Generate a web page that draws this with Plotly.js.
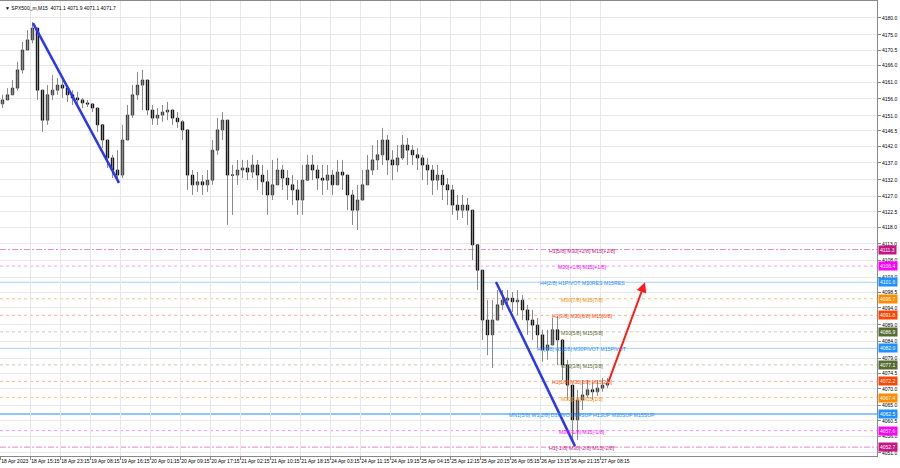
<!DOCTYPE html>
<html>
<head>
<meta charset="utf-8">
<script src="https://cdn.plot.ly/plotly-3.0.1.min.js"></script>
<style>html,body{margin:0;padding:0;background:#fff;}#chart{width:900px;height:468px;}</style>
</head>
<body>
<div id="chart"></div>
<script>
// ---- DATA ----
const symbolHeader = "\u25BC SPX500_m,M15  4071.1 4071.9 4071.1 4071.7";
const timeLabels = ["18 Apr 2023","18 Apr 15:15","18 Apr 23:15","19 Apr 08:15","19 Apr 16:15","20 Apr 01:15","20 Apr 09:15","20 Apr 17:15","21 Apr 02:15","21 Apr 10:15","21 Apr 18:15","24 Apr 03:15","24 Apr 11:15","24 Apr 19:15","25 Apr 04:15","25 Apr 12:15","25 Apr 20:15","26 Apr 05:15","26 Apr 13:15","26 Apr 21:15","27 Apr 08:15"];
const priceTicks = [4180.0,4175.0,4170.5,4166.0,4161.0,4156.0,4151.0,4146.5,4142.0,4137.0,4132.0,4127.0,4122.5,4118.0,4113.0,4108.0,4103.0,4098.5,4094.0,4089.0,4084.0,4079.0,4074.5,4070.0,4065.0,4060.5,4056.0,4051.0];

const open = [4154.5,4155.7,4157.2,4159.2,4164.6,4170.5,4173.5,4177.0,4158.6,4149.7,
4157.2,4158.6,4160.1,4159.2,4157.2,4156.3,4155.7,4154.8,4154.5,4153.3,
4148.3,4143.8,4138.5,4134.9,4133.4,4143.8,4151.2,4157.2,4160.1,4161.6,
4152.7,4150.3,4151.2,4152.1,4152.7,4150.3,4149.2,4146.8,4133.4,4130.5,
4131.4,4130.5,4131.9,4140.8,4146.8,4149.7,4133.4,4133.4,4134.9,4135.5,
4134.3,4136.4,4133.4,4131.4,4127.5,4130.5,4134.9,4132.5,4130.5,4129.0,
4126.0,4131.9,4136.4,4134.9,4132.5,4131.9,4133.4,4130.5,4134.3,4133.4,
4127.5,4123.0,4126.0,4130.5,4134.9,4137.9,4139.4,4143.8,4137.9,4136.4,
4138.5,4142.3,4140.8,4139.4,4138.5,4136.4,4134.9,4131.9,4133.4,4130.5,
4129.0,4124.5,4123.0,4124.5,4123.0,4112.7,4105.2,4090.4,4086.0,4090.4,
4094.9,4096.3,4096.9,4095.8,4096.3,4093.4,4090.4,4088.9,4086.0,4081.5,
4083.0,4087.5,4084.5,4077.1,4071.1,4060.8,4066.7,4068.2,4069.7,4069.1,
4070.2,4071.1];
const high = [4157.2,4159.2,4161.6,4167.0,4172.9,4176.4,4178.8,4177.0,4158.6,4160.1,
4163.1,4162.2,4161.6,4160.1,4158.6,4158.1,4156.3,4155.7,4154.5,4153.3,
4148.3,4143.8,4139.4,4140.8,4148.3,4154.2,4160.1,4164.0,4164.6,4161.6,
4154.2,4153.3,4154.2,4155.1,4152.7,4152.1,4149.7,4146.8,4134.9,4134.3,
4133.4,4134.9,4143.8,4150.3,4152.1,4149.7,4136.4,4137.9,4137.9,4137.9,
4139.4,4137.9,4136.4,4134.9,4137.9,4138.5,4136.4,4134.9,4133.4,4131.9,
4136.4,4139.4,4139.4,4136.4,4136.4,4136.4,4134.9,4137.9,4137.9,4133.4,
4129.0,4130.5,4134.9,4139.4,4142.3,4143.8,4147.4,4145.3,4140.8,4142.3,
4145.3,4144.4,4142.3,4141.4,4139.4,4138.5,4136.4,4136.4,4134.9,4132.5,
4130.5,4127.5,4127.5,4126.6,4123.0,4112.7,4105.2,4096.3,4096.3,4099.3,
4099.3,4099.3,4098.7,4099.3,4097.8,4094.9,4093.4,4091.0,4087.5,4087.5,
4091.0,4091.6,4084.5,4078.6,4071.1,4069.7,4072.6,4072.6,4072.0,4072.6,
4073.2,4073.2];
const low = [4153.3,4155.7,4157.2,4158.5,4163.5,4170.5,4172.5,4155.7,4146.2,4148.3,
4155.7,4157.2,4156.3,4155.1,4154.2,4153.3,4153.3,4153.6,4152.1,4146.2,
4141.4,4135.5,4132.5,4131.1,4132.5,4143.8,4150.3,4155.7,4152.7,4151.2,
4148.3,4148.3,4149.2,4149.7,4148.3,4147.4,4143.8,4129.0,4127.5,4128.4,
4127.5,4128.4,4130.5,4139.4,4143.8,4118.6,4121.6,4130.5,4132.5,4131.9,
4132.5,4129.0,4127.5,4121.6,4126.0,4130.5,4129.0,4126.0,4124.5,4121.6,
4121.6,4131.9,4131.9,4129.0,4127.5,4129.0,4127.5,4130.5,4129.0,4123.0,
4118.6,4117.1,4126.0,4130.5,4133.4,4134.9,4136.4,4133.4,4131.9,4134.3,
4137.9,4136.4,4136.4,4134.9,4131.9,4130.5,4127.5,4129.0,4126.0,4124.5,
4121.6,4120.1,4120.7,4118.6,4108.2,4099.3,4084.5,4080.0,4076.2,4090.4,
4093.4,4094.0,4092.8,4091.9,4090.4,4086.0,4084.5,4082.1,4078.0,4078.6,
4083.0,4077.1,4072.6,4066.7,4054.8,4054.8,4063.7,4067.3,4066.7,4067.9,
4069.1,4070.2];
const close = [4155.7,4157.2,4159.2,4164.6,4170.5,4173.5,4177.0,4158.6,4149.7,4157.2,
4158.6,4160.1,4159.2,4157.2,4156.3,4155.7,4154.8,4154.5,4153.3,4148.3,
4143.8,4138.5,4134.9,4133.4,4143.8,4151.2,4157.2,4160.1,4161.6,4152.7,
4150.3,4151.2,4152.1,4152.7,4150.3,4149.2,4146.8,4133.4,4130.5,4131.4,
4130.5,4131.9,4140.8,4146.8,4149.7,4133.4,4133.4,4134.9,4135.5,4134.3,
4136.4,4133.4,4131.4,4127.5,4130.5,4134.9,4132.5,4130.5,4129.0,4126.0,
4131.9,4136.4,4134.9,4132.5,4131.9,4133.4,4130.5,4134.3,4133.4,4127.5,
4123.0,4126.0,4130.5,4134.9,4137.9,4139.4,4143.8,4137.9,4136.4,4138.5,
4142.3,4140.8,4139.4,4138.5,4136.4,4134.9,4131.9,4133.4,4130.5,4129.0,
4124.5,4123.0,4124.5,4123.0,4112.7,4105.2,4090.4,4086.0,4090.4,4094.9,
4096.3,4096.9,4095.8,4096.3,4093.4,4090.4,4088.9,4086.0,4081.5,4083.0,
4087.5,4084.5,4077.1,4071.1,4060.8,4066.7,4068.2,4069.7,4069.1,4070.2,
4071.1,4071.7];

const levelPrices = [4111.3,4106.4,4101.6,4096.7,4091.8,4086.9,4082.0,4077.1,4072.2,4067.4,4062.5,4057.6,4052.7];
const levelLabels = ["H1[5/8] M30[+2/8] M15[+2/8]","M30[+1/8] M15[+1/8]","H4[2/8] H1PIVOT M30RES M15RES","M30[7/8] M15[7/8]","H1[3/8] M30[6/8] M15[6/8]","M30[5/8] M15[5/8]","H4[1/8] H1[2/8] M30PIVOT M15PIVOT","M30[3/8] M15[3/8]","H1[1/8] M30[2/8] M15[2/8]","M30[1/8] M15[1/8]","MN1[5/8] W1[2/8] D1PIVOT H4SUP H1SUP M30SUP M15SUP","M30[-1/8] M15[-1/8]","H1[-1/8] M30[-2/8] M15[-2/8]"];

// trend lines: [bar, price]
const trend1Bars = [6.1, 23.3], trend1Prices = [4178.5, 4131.1];
const trend2Bars = [98.7, 114.5], trend2Prices = [4101.7, 4053.0];
const arrowBars = [121.1, 128.5], arrowPrices = [4071.7, 4101.6];

// ---- STYLES ----
const levelStyle = [
  {c:"#c71585", line:"#e58ac2", dash:"6px,2px,2px,2px", w:1},
  {c:"#ff00ff", line:"#f59cf5", dash:"3px,3px", w:1},
  {c:"#1e90ff", line:"#a9d2f7", dash:"solid", w:1},
  {c:"#ff8c00", line:"#f6c58a", dash:"3px,3px", w:1},
  {c:"#ff4500", line:"#f4b29a", dash:"3px,3px", w:1},
  {c:"#556b2f", line:"#c6cdb0", dash:"3px,3px", w:1},
  {c:"#1e90ff", line:"#a9d2f7", dash:"solid", w:1},
  {c:"#556b2f", line:"#c6cdb0", dash:"3px,3px", w:1},
  {c:"#ff4500", line:"#f4b29a", dash:"3px,3px", w:1},
  {c:"#ff8c00", line:"#f6c58a", dash:"3px,3px", w:1},
  {c:"#1e90ff", line:"#93c6f5", dash:"solid", w:2},
  {c:"#ff00ff", line:"#f59cf5", dash:"3px,3px", w:1},
  {c:"#c71585", line:"#e58ac2", dash:"6px,2px,2px,2px", w:1}
];
const FONT = "Liberation Sans, Arial, sans-serif";
const barPx = 5, plotW = 877;

const xs = close.map((_, i) => i);
const bodyTop = open.map((o, i) => Math.max(o, close[i]));
const bodyBot = open.map((o, i) => Math.min(o, close[i]));
const traces = [
  {type:"ohlc", x:xs, open:open, high:high, low:low, close:close,
   increasing:{line:{color:"#8a8a8a", width:1}},
   decreasing:{line:{color:"#8a8a8a", width:1}},
   tickwidth:0, hoverinfo:"skip", showlegend:false},
  {type:"candlestick", x:xs, open:open, high:bodyTop, low:bodyBot, close:close,
   increasing:{line:{color:"#2b2b2b", width:0.8}, fillcolor:"#555"},
   decreasing:{line:{color:"#000", width:0.8}, fillcolor:"#000"},
   whiskerwidth:0, hoverinfo:"skip", showlegend:false},
  {type:"scatter", mode:"lines", x:trend1Bars, y:trend1Prices, line:{color:"#2a36f0", width:2.5}, hoverinfo:"skip", showlegend:false},
  {type:"scatter", mode:"lines", x:trend2Bars, y:trend2Prices, line:{color:"#2a36f0", width:2.5}, hoverinfo:"skip", showlegend:false}
];

const shapes = levelPrices.map((p, i) => ({
  type:"line", xref:"paper", x0:0, x1:1, yref:"y", y0:p, y1:p, layer:"below",
  line:{color:levelStyle[i].line, width:levelStyle[i].w, dash:levelStyle[i].dash}
}));

const annotations = [];
levelPrices.forEach((p, i) => {
  annotations.push({xref:"paper", x:582/plotW, yref:"y", y:p, yshift:-1, text:levelLabels[i], showarrow:false,
    xanchor:"center", yanchor:"middle", font:{family:FONT, size:5.2, color:levelStyle[i].c}});
  annotations.push({xref:"paper", x:1, xshift:1, yref:"y", y:p, text:p.toFixed(1), showarrow:false,
    xanchor:"left", yanchor:"middle", bgcolor:levelStyle[i].c, borderpad:1,
    font:{family:FONT, size:5, color:"#fff"}});
});
annotations.push({xref:"paper", yref:"paper", x:0, y:1, xshift:3, yshift:-2, xanchor:"left", yanchor:"top",
  text:symbolHeader, showarrow:false, font:{family:FONT, size:5, color:"#000"}});
annotations.push({xref:"x", yref:"y", axref:"x", ayref:"y", x:arrowBars[1], y:arrowPrices[1], ax:arrowBars[0], ay:arrowPrices[0],
  showarrow:true, arrowhead:2, arrowsize:1, arrowwidth:2, arrowcolor:"#ff1a1a", text:""});

const layout = {
  width:900, height:468,
  margin:{l:0, r:900-plotW, t:1, b:12, pad:0},
  paper_bgcolor:"#ffffff", plot_bgcolor:"#ffffff",
  showlegend:false, hovermode:false, dragmode:false,
  font:{family:FONT, size:5, color:"#000"},
  xaxis:{
    range:[-0.5, plotW/barPx - 0.5],
    tickvals: timeLabels.map((_, k) => k*6 - 0.5 + 0.05),
    ticktext: timeLabels,
    tickangle:0,
    ticklabelposition:"outside right",
    tickfont:{family:FONT, size:5, color:"#000"},
    ticks:"outside", ticklen:3, tickcolor:"#888",
    showgrid:true, gridcolor:"#e8e8e8", gridwidth:1,
    showline:true, linecolor:"#888", mirror:true, zeroline:false,
    rangeslider:{visible:false}, fixedrange:true
  },
  yaxis:{
    side:"right",
    range:[4050.07, 4185.04],
    tickvals:priceTicks,
    ticktext:priceTicks.map(v => v.toFixed(1)),
    tickfont:{family:FONT, size:5, color:"#000"},
    ticks:"outside", ticklen:3, tickcolor:"#888",
    showgrid:true, gridcolor:"#e8e8e8", gridwidth:1,
    showline:true, linecolor:"#888", mirror:true, zeroline:false, fixedrange:true
  },
  shapes:shapes,
  annotations:annotations
};

Plotly.newPlot("chart", traces, layout, {staticPlot:true, displayModeBar:false});
</script>
</body>
</html>
